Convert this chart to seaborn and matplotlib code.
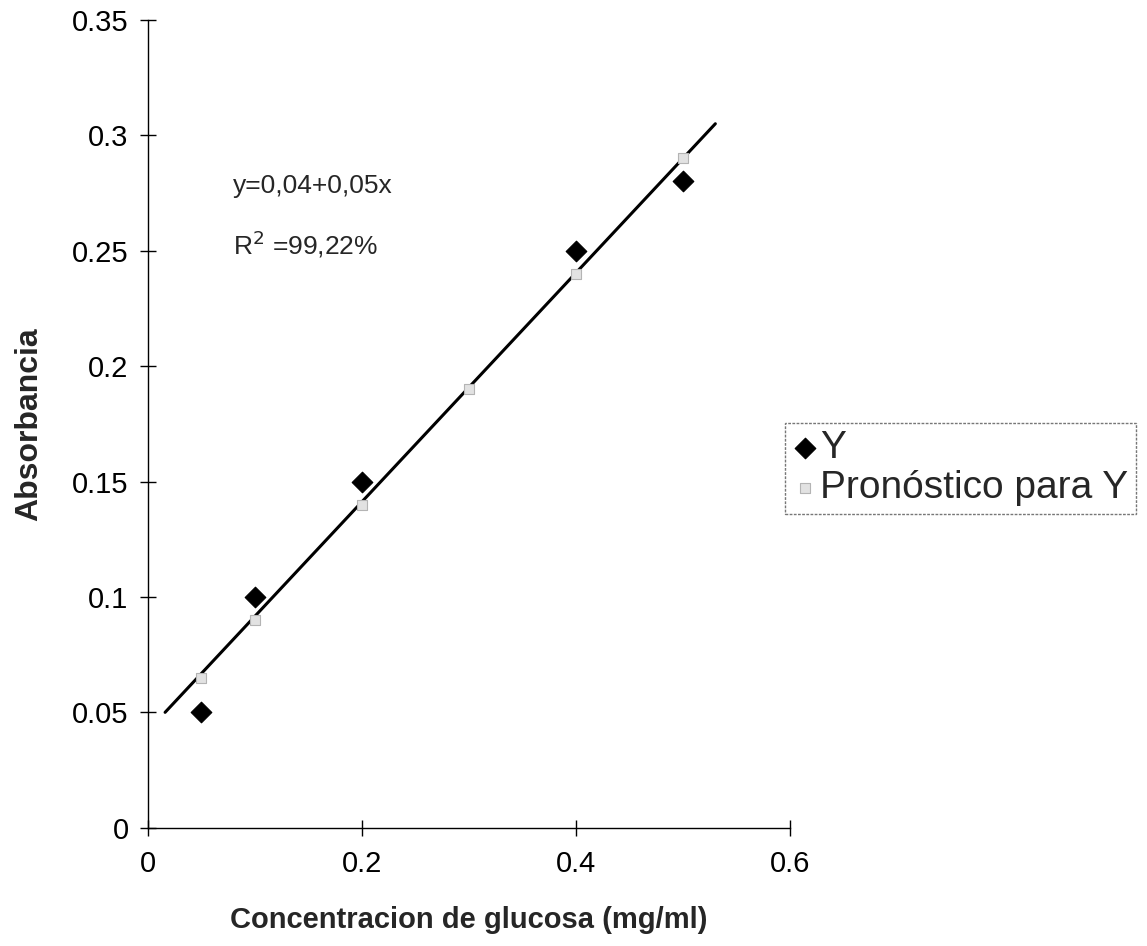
import numpy as np
import seaborn as sns
import pandas as pd
from matplotlib import pyplot as plt

# observed absorbance
conc_y = [0.05, 0.1, 0.2, 0.4, 0.5]
abs_y = [0.05, 0.1, 0.15, 0.25, 0.28]

# predicted by the regression
conc_pred = [0.05, 0.1, 0.2, 0.3, 0.4, 0.5]
abs_pred = [0.065, 0.09, 0.14, 0.19, 0.24, 0.29]

# fitted line end points
fit_x = [0.016, 0.53]
fit_y = [0.05, 0.305]

x_ticks = [0, 0.2, 0.4, 0.6]
x_labels = ["0", "0.2", "0.4", "0.6"]
y_ticks = [0, 0.05, 0.1, 0.15, 0.2, 0.25, 0.3, 0.35]
y_labels = ["0", "0.05", "0.1", "0.15", "0.2", "0.25", "0.3", "0.35"]

sns.set_style("white")
plt.rcParams['font.family'] = ['Liberation Sans', 'DejaVu Sans']

fig = plt.figure(figsize=(11.47, 9.46), dpi=100)
ax = fig.add_axes([0.129, 0.125, 0.56, 0.854])

df_y = pd.DataFrame({'x': conc_y, 'y': abs_y})
df_p = pd.DataFrame({'x': conc_pred, 'y': abs_pred})

ax.plot(fit_x, fit_y, color='black', lw=2.2, zorder=2)
sns.scatterplot(data=df_p, x='x', y='y', ax=ax, marker='s', s=50,
                color='#e2e2e2', edgecolor='#b4b4b4', linewidth=0.8,
                label='Pronóstico para Y', zorder=3)
sns.scatterplot(data=df_y, x='x', y='y', ax=ax, marker='D', s=110,
                color='black', edgecolor='black', label='Y', zorder=4)

ax.set_xlim(0, 0.6)
ax.set_ylim(0, 0.35)
ax.set_xticks(x_ticks)
ax.set_xticklabels(x_labels)
ax.set_yticks(y_ticks)
ax.set_yticklabels(y_labels)
ax.tick_params(bottom=True, left=True, direction='inout', length=12,
               width=1, labelsize=21, colors='black')
ax.tick_params(axis='y', pad=8)
ax.tick_params(axis='x', pad=10)

for side in ['top', 'right']:
    ax.spines[side].set_visible(False)
for side in ['left', 'bottom']:
    ax.spines[side].set_color('black')
    ax.spines[side].set_linewidth(1)

ax.set_xlabel('Concentracion de glucosa (mg/ml)', fontsize=21,
              fontweight='bold', labelpad=20)
ax.set_ylabel('Absorbancia', fontsize=23, fontweight='bold', labelpad=20)

ax.text(0.079, 0.278, 'y=0,04+0,05x', fontsize=19, va='center')
ax.text(0.079, 0.253, r'R$^2$ =99,22%', fontsize=19, va='center')

handles, labels = ax.get_legend_handles_labels()
order = [labels.index('Y'), labels.index('Pronóstico para Y')]
leg = ax.legend([handles[i] for i in order], [labels[i] for i in order],
                loc='center left', bbox_to_anchor=(0.992, 0.445),
                fontsize=28, frameon=True, fancybox=False,
                handletextpad=0.1, handlelength=0.6, borderpad=0.2,
                labelspacing=0.1, borderaxespad=0)
leg.get_frame().set_edgecolor('#555555')
leg.get_frame().set_linestyle((0, (2, 1)))
leg.get_frame().set_linewidth(1)

fig.savefig('out.png', dpi=100)
